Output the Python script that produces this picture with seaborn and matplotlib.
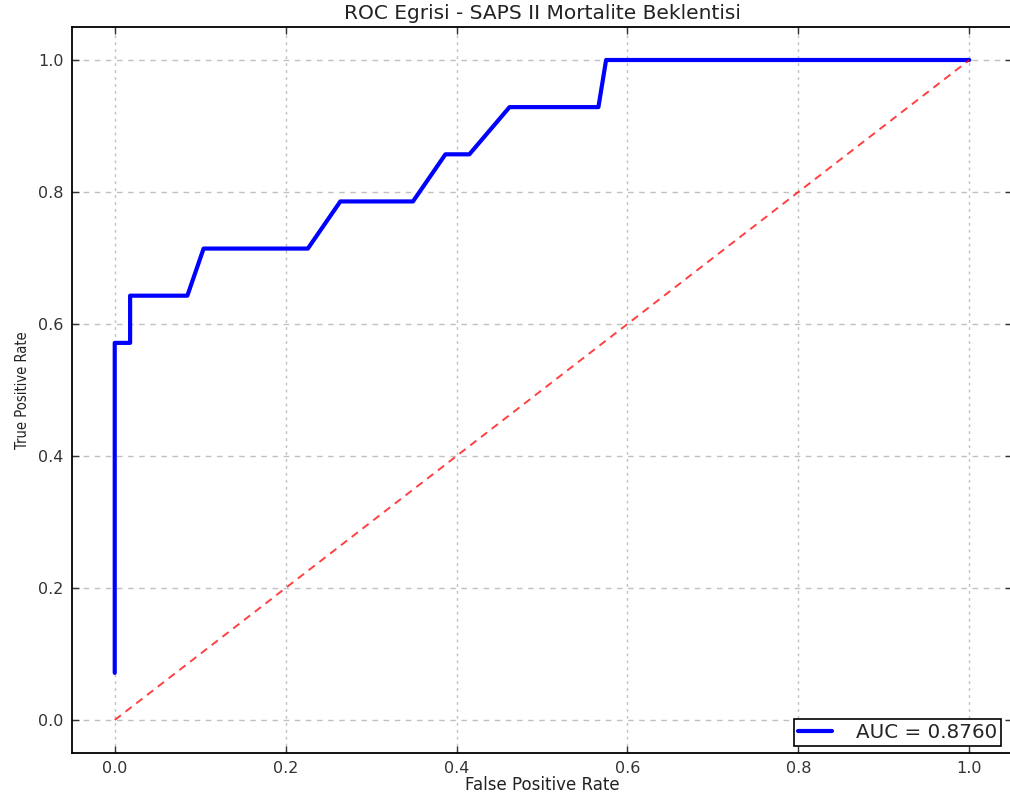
import matplotlib
matplotlib.use("Agg")
import matplotlib.pyplot as plt
import seaborn as sns
import pandas as pd

fpr = [0.0, 0.0, 0.018, 0.018, 0.085, 0.104, 0.226, 0.264, 0.349, 0.387, 0.415, 0.462, 0.566, 0.575, 1.0]
tpr = [0.0714, 0.5714, 0.5714, 0.6429, 0.6429, 0.7143, 0.7143, 0.7857, 0.7857, 0.8571, 0.8571, 0.9286, 0.9286, 1.0, 1.0]
auc_label = "AUC = 0.8760"
diag = [0.0, 1.0]
xticks = [0.0, 0.2, 0.4, 0.6, 0.8, 1.0]
yticks = [0.0, 0.2, 0.4, 0.6, 0.8, 1.0]

sns.set_style("white")
plt.rcParams['font.family'] = ['DejaVu Sans']
plt.rcParams['font.stretch'] = 'normal'

fig = plt.figure(figsize=(10.10, 7.98), dpi=100)
W, H = 1010, 798
ax = fig.add_axes([72 / W, 1 - 753 / H, (1012 - 72) / W, (753 - 27) / H])

df = pd.DataFrame({"fpr": fpr, "tpr": tpr})
sns.lineplot(data=df, x="fpr", y="tpr", sort=False, estimator=None, color="blue",
             linewidth=3, label=auc_label, ax=ax)
ax.plot(diag, diag, linestyle=(0, (4, 3)), color="red", alpha=0.75, linewidth=1.4)

ax.set_xlim(-0.05, 1.05)
ax.set_ylim(-0.05, 1.05)
ax.set_xticks(xticks)
ax.set_yticks(yticks)
ax.set_xticklabels([f"{v:.1f}" for v in xticks])
ax.set_yticklabels([f"{v:.1f}" for v in yticks])
ax.tick_params(axis="both", labelsize=11.5, colors="#333333", length=5, direction="in",
               top=True, right=True, bottom=True, left=True, width=1, pad=6)
ax.xaxis.grid(True, linestyle=(0, (2, 3)), color="#c0c0c0", linewidth=1)
ax.yaxis.grid(True, linestyle=(0, (4, 4)), color="#c0c0c0", linewidth=1)
ax.set_axisbelow(True)
for s in ax.spines.values():
    s.set_color("black")
    s.set_linewidth(1.3)

ax.set_title("ROC Egrisi - SAPS II Mortalite Beklentisi", fontsize=14.5, color="#222222",
             fontstretch="normal", pad=6)
ax.set_xlabel("False Positive Rate", fontsize=12, color="#222222", labelpad=0)
ax.set_ylabel("True Positive Rate", fontsize=10.5, color="#222222", fontstretch="condensed", labelpad=6)

leg = ax.legend(loc="lower right", fontsize=14.3, frameon=True, fancybox=False,
                edgecolor="black", borderpad=0.2, handlelength=1.7, handletextpad=1.2,
                borderaxespad=0, bbox_to_anchor=(1 - 11 / 940, 7 / 726))
leg.get_frame().set_linewidth(1.2)
leg.get_frame().set_alpha(1)

fig.savefig("out.png", dpi=100)
